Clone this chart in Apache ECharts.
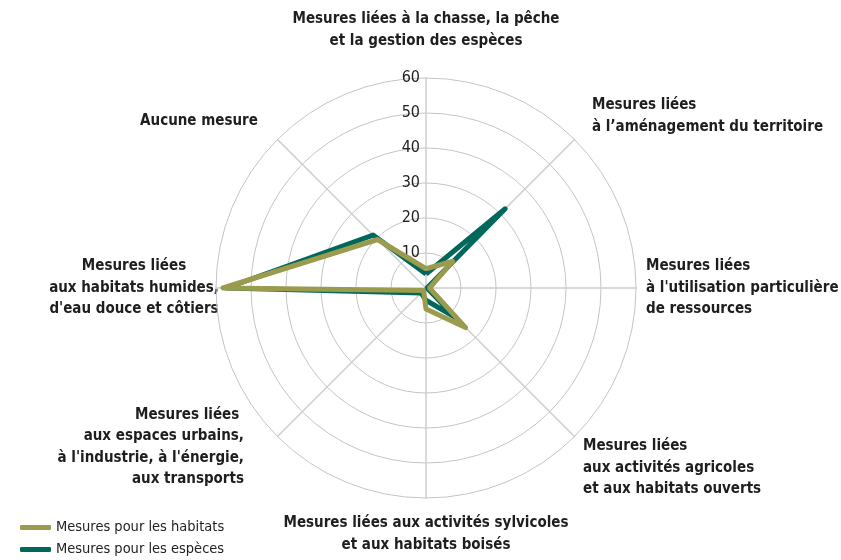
<!DOCTYPE html>
<html>
<head>
<meta charset="utf-8">
<script src="https://cdn.jsdelivr.net/npm/echarts@6/dist/echarts.min.js"></script>
<style>
    html, body { margin: 0; padding: 0; background: #fff; }
    #chart { width: 841px; height: 560px; }
</style>
</head>
<body>
<div id="chart"></div>
<script>
// axes, in the order ECharts puts them (top, then counter-clockwise)
const axisNames = [
    'Mesures liées à la chasse, la pêche\net la gestion des espèces',
    'Aucune mesure',
    'Mesures liées\naux habitats humides,\nd\'eau douce et côtiers',
    'Mesures liées \naux espaces urbains,\nà l\'industrie, à l\'énergie,\naux transports',
    'Mesures liées aux activités sylvicoles\net aux habitats boisés',
    'Mesures liées\naux activités agricoles\net aux habitats ouverts',
    'Mesures liées\nà l\'utilisation particulière\nde ressources',
    'Mesures liées\nà l’aménagement du territoire'
];

const seriesNames = ['Mesures pour les habitats', 'Mesures pour les espèces'];
const habitatValues = [5.5, 19.6, 58, 1, 6, 16, 1, 10.8];
const speciesValues = [4, 21.4, 57, 2, 3.5, 12, 0.3, 32];

const axisMax = 60;
const tickStep = 10;

// where each axis name sits: [x, y, align]
const nameLayout = [
    [426, 30, 'center'],
    [199, 121, 'center'],
    [134, 288, 'center'],
    [244, 447, 'right'],
    [426, 534, 'center'],
    [583, 468, 'left'],
    [646, 288, 'left'],
    [592, 116, 'left']
];

const colorHabitats = '#9a9b4c';
const colorSpecies = '#00685b';
const fontFamily = '"Liberation Sans Narrow", "DejaVu Sans Condensed", "Roboto", sans-serif';

const chart = echarts.init(document.getElementById('chart'));

const indicators = axisNames.map((name, i) => {
    const ind = { name: name, max: axisMax, min: 0 };
    if (i === 0) {
        ind.axisLabel = {
            show: true,
            showMinLabel: false,
            color: '#222',
            fontSize: 16,
            fontFamily: fontFamily,
            margin: 6
        };
    }
    return ind;
});

const nameTexts = axisNames.map((name, i) => ({
    type: 'text',
    x: nameLayout[i][0],
    y: nameLayout[i][1],
    style: {
        text: name,
        align: nameLayout[i][2],
        verticalAlign: 'middle',
        fill: '#1e1e1e',
        fontSize: 15,
        fontWeight: 'bold',
        lineHeight: 21.5,
        fontFamily: fontFamily
    }
}));

const option = {
    animation: false,
    legend: {
        orient: 'vertical',
        left: 20,
        top: 520,
        padding: 0,
        itemGap: 7,
        itemWidth: 31,
        itemHeight: 5,
        icon: 'roundRect',
        data: seriesNames,
        textStyle: {
            color: '#222',
            fontSize: 14.5,
            fontFamily: fontFamily,
            padding: [0, 0, 0, 0]
        }
    },
    radar: {
        center: [426, 288],
        radius: 210,
        startAngle: 90,
        shape: 'circle',
        splitNumber: axisMax / tickStep,
        indicator: indicators,
        axisName: { show: false },
        axisLine: { lineStyle: { color: '#cdcdcd', width: 1.5 } },
        axisTick: { show: false },
        axisLabel: { show: false },
        splitLine: { lineStyle: { color: '#c4c4c4', width: 1 } },
        splitArea: { show: false }
    },
    graphic: nameTexts,
    series: [{
        type: 'radar',
        symbol: 'none',
        data: [
            {
                name: seriesNames[1],
                value: speciesValues,
                lineStyle: { color: colorSpecies, width: 5 },
                itemStyle: { color: colorSpecies }
            },
            {
                name: seriesNames[0],
                value: habitatValues,
                lineStyle: { color: colorHabitats, width: 5 },
                itemStyle: { color: colorHabitats }
            }
        ]
    }]
};

chart.setOption(option);
</script>
</body>
</html>
